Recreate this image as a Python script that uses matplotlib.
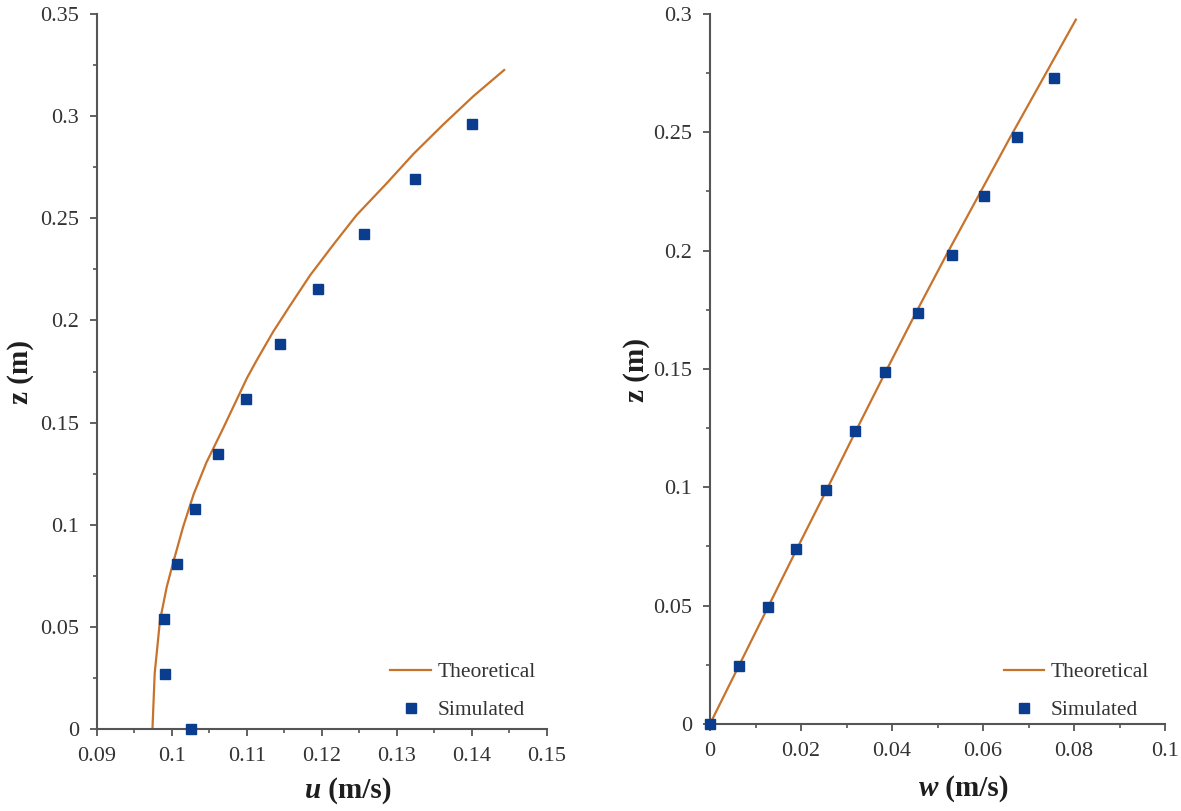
import numpy as np
import matplotlib.pyplot as plt
from matplotlib.ticker import MultipleLocator, FuncFormatter

plt.rcParams['font.family'] = ['Liberation Serif', 'DejaVu Serif']

# left panel : horizontal velocity u
u_theo = [0.0974, 0.0977, 0.0984, 0.0993, 0.1002, 0.1015, 0.1029, 0.1046,
          0.1068, 0.1100, 0.1113, 0.1135, 0.1157, 0.1184, 0.1215, 0.1246,
          0.1286, 0.1322, 0.1362, 0.1402, 0.1443]
z_theo_u = [0.0, 0.0273, 0.0530, 0.0695, 0.0820, 0.0991, 0.1150, 0.1305,
            0.1470, 0.1718, 0.1805, 0.1945, 0.2070, 0.2220, 0.2370, 0.2515,
            0.2670, 0.2815, 0.2960, 0.3098, 0.3226]
u_sim = [0.1026, 0.0991, 0.0989, 0.1007, 0.1031, 0.1061, 0.1099, 0.1144,
         0.1195, 0.1256, 0.1324, 0.1400]
z_sim_u = [0.0, 0.0269, 0.0538, 0.0808, 0.1077, 0.1346, 0.1615, 0.1885,
           0.2154, 0.2423, 0.2692, 0.2962]

# right panel : vertical velocity w
w_theo = [0.0, 0.0064, 0.0128, 0.0192, 0.0257, 0.0321, 0.0386, 0.0452,
          0.0520, 0.0590, 0.0660, 0.0732, 0.0804]
z_theo_w = [0.0, 0.0248, 0.0496, 0.0744, 0.0992, 0.1240, 0.1488, 0.1736,
            0.1984, 0.2232, 0.2480, 0.2728, 0.2976]
w_sim = [0.0, 0.0064, 0.0127, 0.0189, 0.0255, 0.0319, 0.0385, 0.0457,
         0.0532, 0.0602, 0.0675, 0.0755]
z_sim_w = [0.0, 0.0245, 0.0494, 0.0739, 0.0989, 0.1238, 0.1487, 0.1737,
           0.1982, 0.2231, 0.2480, 0.2730]

line_col = '#C8732C'
mark_col = '#0B3D8F'
axis_col = '#555555'
text_col = '#333333'
label_col = '#1e1e1e'


def fmt(v, pos):
    return f"{v:.3f}".rstrip('0').rstrip('.')


def style(ax):
    for s in ['top', 'right']:
        ax.spines[s].set_visible(False)
    for s in ['left', 'bottom']:
        ax.spines[s].set_color(axis_col)
        ax.spines[s].set_linewidth(1.5)
    ax.tick_params(which='major', direction='out', length=5, width=1.3,
                   color=axis_col, labelsize=16, labelcolor=text_col, pad=8)
    ax.tick_params(which='minor', direction='out', length=3, width=1.2,
                   color=axis_col)
    ax.xaxis.set_major_formatter(FuncFormatter(fmt))
    ax.yaxis.set_major_formatter(FuncFormatter(fmt))


W, H = 1181, 811
fig = plt.figure(figsize=(W / 100, H / 100), dpi=100)
ax1 = fig.add_axes([0.0821, 0.1011, 0.381, 0.8816])
ax2 = fig.add_axes([0.6012, 0.1073, 0.3853, 0.8755])

ax1.plot(u_theo, z_theo_u, color=line_col, lw=1.6, label='Theoretical', zorder=2)
ax1.plot(u_sim, z_sim_u, ls='none', marker='s', ms=7.5, color=mark_col,
         label='Simulated', zorder=3, clip_on=False)
ax1.set_xlim(0.09, 0.15)
ax1.set_ylim(0, 0.35)
ax1.xaxis.set_major_locator(MultipleLocator(0.01))
ax1.xaxis.set_minor_locator(MultipleLocator(0.005))
ax1.yaxis.set_major_locator(MultipleLocator(0.05))
ax1.yaxis.set_minor_locator(MultipleLocator(0.025))
style(ax1)

ax2.plot(w_theo, z_theo_w, color=line_col, lw=1.6, label='Theoretical', zorder=2)
ax2.plot(w_sim, z_sim_w, ls='none', marker='s', ms=7.5, color=mark_col,
         label='Simulated', zorder=3, clip_on=False)
ax2.set_xlim(0, 0.1)
ax2.set_ylim(0, 0.3)
ax2.xaxis.set_major_locator(MultipleLocator(0.02))
ax2.xaxis.set_minor_locator(MultipleLocator(0.01))
ax2.yaxis.set_major_locator(MultipleLocator(0.05))
ax2.yaxis.set_minor_locator(MultipleLocator(0.025))
style(ax2)

for ax, anchor in [(ax1, (0.975, 0.012)), (ax2, (0.965, 0.005))]:
    leg = ax.legend(loc='lower right', bbox_to_anchor=anchor, frameon=False,
                    fontsize=15.5, handlelength=1.9, handletextpad=0.3,
                    labelspacing=0.85, borderpad=0, borderaxespad=0)
    for t in leg.get_texts():
        t.set_color(text_col)

# axis titles (z vertical, italic velocity symbol on x)
for xc, yc in [(20, 372), (636, 370)]:
    fig.text(xc / W, 1 - yc / H, 'z (m)', rotation=90, ha='center', va='center',
             fontsize=21, fontweight='bold', color=label_col)
for xc, yc, var in [(321, 790, 'u'), (938, 789, 'w')]:
    fig.text(xc / W, 1 - yc / H, var, ha='right', va='center',
             fontsize=21, fontweight='bold', fontstyle='italic', color=label_col)
    fig.text(xc / W, 1 - yc / H, ' (m/s)', ha='left', va='center',
             fontsize=21, fontweight='bold', color=label_col)

fig.savefig('out.png', dpi=100)
